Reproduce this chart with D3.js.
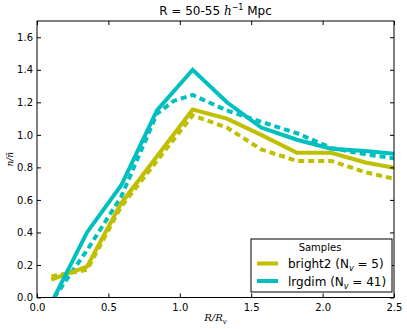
<!DOCTYPE html>
<html><head><meta charset="utf-8">
<script src="https://cdn.jsdelivr.net/npm/d3@7"></script>
<style>body{margin:0;background:#fff}svg{display:block;font-family:"DejaVu Sans",sans-serif}</style>
</head><body><svg id="c" width="407" height="329"></svg>
<script>
const xTicks=[0.0,0.5,1.0,1.5,2.0,2.5];
const yTicks=[0.0,0.2,0.4,0.6,0.8,1.0,1.2,1.4,1.6];
const brightSolidX=[0.1,0.35,0.59,1.09,1.33,1.57,1.82,2.06,2.3,2.55];
const brightSolidY=[0.11,0.19,0.58,1.155,1.10,1.00,0.89,0.89,0.83,0.79];
const brightDashX=[0.1,0.35,0.59,1.09,1.33,1.57,1.82,2.06,2.3,2.55];
const brightDashY=[0.13,0.17,0.56,1.12,1.045,0.91,0.84,0.84,0.77,0.72];
const lrgSolidX=[0.12,0.35,0.59,0.84,1.09,1.33,1.57,1.82,2.06,2.3,2.55];
const lrgSolidY=[0.0,0.40,0.69,1.15,1.40,1.20,1.045,0.97,0.915,0.90,0.88];
const lrgDashX=[0.12,0.35,0.59,0.84,0.96,1.09,1.33,1.57,1.82,2.06,2.3,2.55];
const lrgDashY=[0.0,0.29,0.62,1.13,1.21,1.245,1.15,1.08,1.01,0.92,0.88,0.85];
const legendLabels=["bright2","lrgdim"];
const legendN=[5,41];
const colors=["#bfbf00","#00bfbf"];

const svg=d3.select("#c");
const L=37,R=394,T=21,B=297.5;
const x=d3.scaleLinear().domain([0,2.5]).range([L,R]);
const y=d3.scaleLinear().domain([0,1.7]).range([B,T]);

svg.append("defs").append("clipPath").attr("id","clip").append("rect")
  .attr("x",L).attr("y",T).attr("width",R-L).attr("height",B-T);

const line=d3.line().x(d=>x(d[0])).y(d=>y(d[1]));
const g=svg.append("g").attr("clip-path","url(#clip)");
function draw(xs,ys,col,dash){
  g.append("path").datum(xs.map((v,i)=>[v,ys[i]])).attr("d",line)
   .attr("fill","none").attr("stroke",col).attr("stroke-width",4)
   .attr("stroke-linejoin","miter")
   .attr("stroke-dasharray",dash?"6,4":null);
}
draw(brightDashX,brightDashY,colors[0],true);
draw(lrgDashX,lrgDashY,colors[1],true);
draw(brightSolidX,brightSolidY,colors[0],false);
draw(lrgSolidX,lrgSolidY,colors[1],false);

// axes
const fmt=d3.format(".1f");
const ax=svg.append("g").attr("transform",`translate(0,${B})`).call(d3.axisBottom(x).tickValues(xTicks).tickFormat(fmt).tickSizeInner(-4).tickSizeOuter(0).tickPadding(6));
const ax2=svg.append("g").attr("transform",`translate(0,${T})`).call(d3.axisTop(x).tickValues(xTicks).tickFormat("").tickSizeInner(-4).tickSizeOuter(0));
const ay=svg.append("g").attr("transform",`translate(${L},0)`).call(d3.axisLeft(y).tickValues(yTicks).tickFormat(fmt).tickSizeInner(-4).tickSizeOuter(0).tickPadding(4));
const ay2=svg.append("g").attr("transform",`translate(${R},0)`).call(d3.axisRight(y).tickValues(yTicks).tickFormat("").tickSizeInner(-4).tickSizeOuter(0));
[ax,ax2,ay,ay2].forEach(a=>{a.select(".domain").remove();a.selectAll("line").attr("stroke","#000");a.selectAll("text").attr("font-size",10).attr("font-family","DejaVu Sans").attr("fill","#000");});
svg.append("rect").attr("x",L).attr("y",T).attr("width",R-L).attr("height",B-T).attr("fill","none").attr("stroke","#000").attr("stroke-width",1);

// title
const t=svg.append("text").attr("x",(L+R)/2).attr("y",15).attr("text-anchor","middle").attr("font-size",12);
t.append("tspan").text("R = 50-55 ");
t.append("tspan").attr("font-family","DejaVu Serif").attr("font-style","italic").text("h");
t.append("tspan").attr("font-size",8).attr("dy",-5).text("−1");
t.append("tspan").attr("dy",5).text(" Mpc");

// axis labels
const xl=svg.append("text").attr("x",(L+R)/2).attr("y",321).attr("text-anchor","middle").attr("font-size",10).attr("font-family","DejaVu Serif").attr("font-style","italic");
xl.append("tspan").text("R/R");
xl.append("tspan").attr("font-size",7).attr("dy",3).text("v");
const yl=svg.append("text").attr("transform",`translate(13,${(T+B)/2}) rotate(-90)`).attr("text-anchor","middle").attr("font-size",9).attr("font-family","DejaVu Serif").attr("font-style","italic");
yl.append("tspan").text("n/");
yl.append("tspan").text("n̄");

// legend
const lg=svg.append("g");
lg.append("rect").attr("x",251).attr("y",239).attr("width",141).attr("height",53).attr("fill","#fff").attr("stroke","#000").attr("stroke-width",1);
lg.append("text").attr("x",320).attr("y",251).attr("text-anchor","middle").attr("font-size",10).text("Samples");
legendLabels.forEach((lab,i)=>{
  const yy=263.5+i*17.5;
  lg.append("line").attr("x1",257).attr("x2",278).attr("y1",yy).attr("y2",yy).attr("stroke",colors[i]).attr("stroke-width",4);
  const tx=lg.append("text").attr("x",288).attr("y",yy+4.5).attr("font-size",12);
  tx.append("tspan").text(lab+" (N");
  tx.append("tspan").attr("font-size",8).attr("dy",3).attr("font-style","italic").text("v");
  tx.append("tspan").attr("dy",-3).text(" = "+legendN[i]+")");
});
</script></body></html>
